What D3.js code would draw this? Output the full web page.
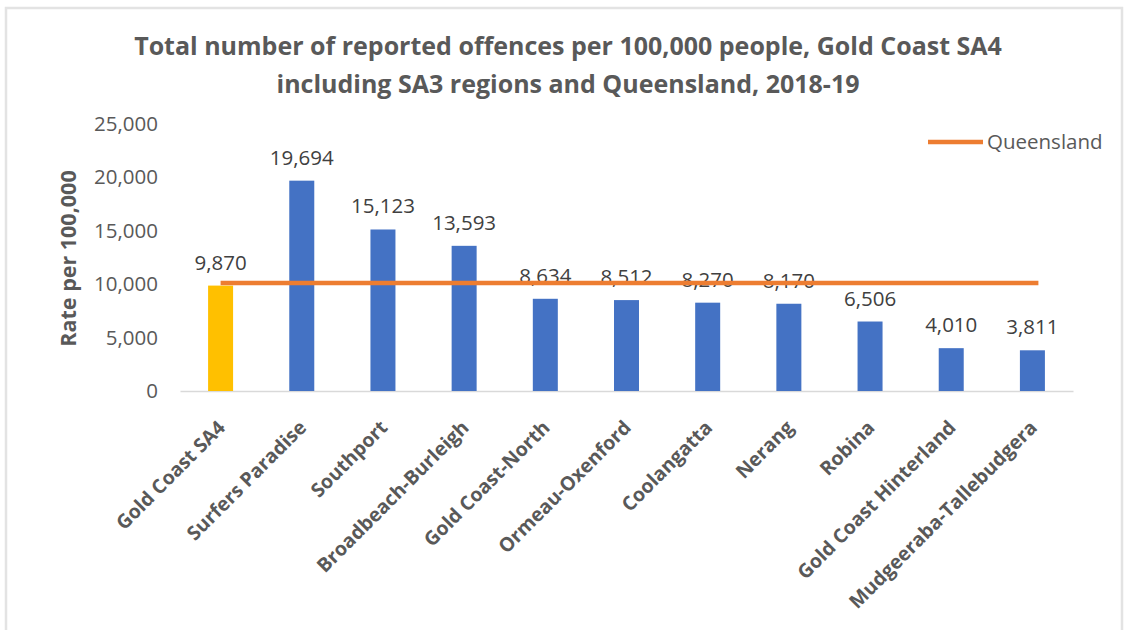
<!DOCTYPE html>
<html>
<head>
<meta charset="utf-8">
<script src="https://cdn.jsdelivr.net/npm/d3@7"></script>
<style>
  html, body { margin: 0; padding: 0; background: #fff; }
  svg { display: block; }
</style>
</head>
<body>
<svg id="chart" width="1126" height="630"></svg>
<script>
const categories = ["Gold Coast SA4", "Surfers Paradise", "Southport", "Broadbeach-Burleigh",
  "Gold Coast-North", "Ormeau-Oxenford", "Coolangatta", "Nerang", "Robina",
  "Gold Coast Hinterland", "Mudgeeraba-Tallebudgera"];
const rates = [9870, 19694, 15123, 13593, 8634, 8512, 8270, 8170, 6506, 4010, 3811];
const queenslandRate = [10120, 10120, 10120, 10120, 10120, 10120, 10120, 10120, 10120, 10120, 10120];
const yTicks = [0, 5000, 10000, 15000, 20000, 25000];
const titleLines = ["Total number of reported offences per 100,000 people, Gold Coast SA4",
  "including SA3 regions and Queensland, 2018-19"];
const yAxisTitle = "Rate per 100,000";
const legendLabel = "Queensland";

const svg = d3.select("#chart");
const plot = { left: 180, right: 1073, top: 124, bottom: 391 };

// chart frame
svg.append("rect").attr("x", 6).attr("y", 8).attr("width", 1116).attr("height", 640)
  .attr("fill", "#fff").attr("stroke", "#e3e3e3").attr("stroke-width", 2.5);

const x = d3.scaleBand().domain(categories).range([plot.left, plot.right]).paddingInner(0).paddingOuter(0);
const y = d3.scaleLinear().domain([0, 25000]).range([plot.bottom, plot.top]);
const fmt = d3.format(",");

// title
svg.append("g").selectAll("text").data(titleLines).join("text")
  .attr("x", 568).attr("y", (d, i) => 55 + i * 38)
  .attr("text-anchor", "middle")
  .attr("font-family", "'Open Sans', sans-serif")
  .attr("font-weight", "bold").attr("font-size", 25).attr("fill", "#595959")
  .text(d => d);

// y axis
const yAxis = d3.axisLeft(y).tickValues(yTicks).tickFormat(fmt).tickSize(0).tickPadding(22);
const gy = svg.append("g").attr("transform", `translate(${plot.left},0)`).call(yAxis);
gy.select(".domain").remove();
gy.selectAll("text").attr("font-family", "'Open Sans', sans-serif").attr("font-size", 20.5)
  .attr("fill", "#595959");

// y axis title
svg.append("text")
  .attr("transform", `translate(76,${(plot.top + plot.bottom) / 2 + 1}) rotate(-90)`)
  .attr("text-anchor", "middle")
  .attr("font-family", "'Open Sans', sans-serif").attr("font-weight", "bold")
  .attr("font-size", 21.5).attr("fill", "#595959")
  .text(yAxisTitle);

// baseline
const xAxis = d3.axisBottom(x).tickSize(0).tickFormat("");
const gx = svg.append("g").attr("transform", `translate(0,${plot.bottom})`).call(xAxis);
gx.select(".domain").attr("stroke", "#d9d9d9").attr("stroke-width", 1.5);

// bars
const barW = 25;
svg.append("g").selectAll("rect").data(rates).join("rect")
  .attr("x", (d, i) => x(categories[i]) + x.bandwidth() / 2 - barW / 2)
  .attr("width", barW)
  .attr("y", d => y(d))
  .attr("height", d => y(0) - y(d))
  .attr("fill", (d, i) => i === 0 ? "#FFC000" : "#4472C4");

// data labels
svg.append("g").selectAll("text").data(rates).join("text")
  .attr("x", (d, i) => x(categories[i]) + x.bandwidth() / 2)
  .attr("y", d => y(d) - 16)
  .attr("text-anchor", "middle")
  .attr("font-family", "'Open Sans', sans-serif").attr("font-size", 20.5)
  .attr("fill", "#404040")
  .text(d => fmt(d));

// Queensland line
const line = d3.line()
  .x((d, i) => x(categories[i]) + x.bandwidth() / 2 + (i === categories.length - 1 ? 6 : 0))
  .y(d => y(d));
svg.append("path").datum(queenslandRate)
  .attr("d", line).attr("fill", "none")
  .attr("stroke", "#ED7D31").attr("stroke-width", 4.5);

// category labels
svg.append("g").selectAll("text").data(categories).join("text")
  .attr("transform", d => `translate(${x(d) + x.bandwidth() / 2 + 1},${plot.bottom + 33}) rotate(-45)`)
  .attr("text-anchor", "end").attr("dy", "0.35em")
  .attr("font-family", "'Open Sans', sans-serif").attr("font-weight", "bold")
  .attr("font-size", 19.5).attr("fill", "#595959")
  .text(d => d);

// legend
const lg = svg.append("g").attr("transform", "translate(928,142)");
lg.append("line").attr("x1", 0).attr("x2", 55).attr("y1", 0).attr("y2", 0)
  .attr("stroke", "#ED7D31").attr("stroke-width", 4.5);
lg.append("text").attr("x", 59).attr("y", 0).attr("dy", "0.35em")
  .attr("font-family", "'Open Sans', sans-serif").attr("font-size", 20.5)
  .attr("fill", "#595959").text(legendLabel);
</script>
</body>
</html>
